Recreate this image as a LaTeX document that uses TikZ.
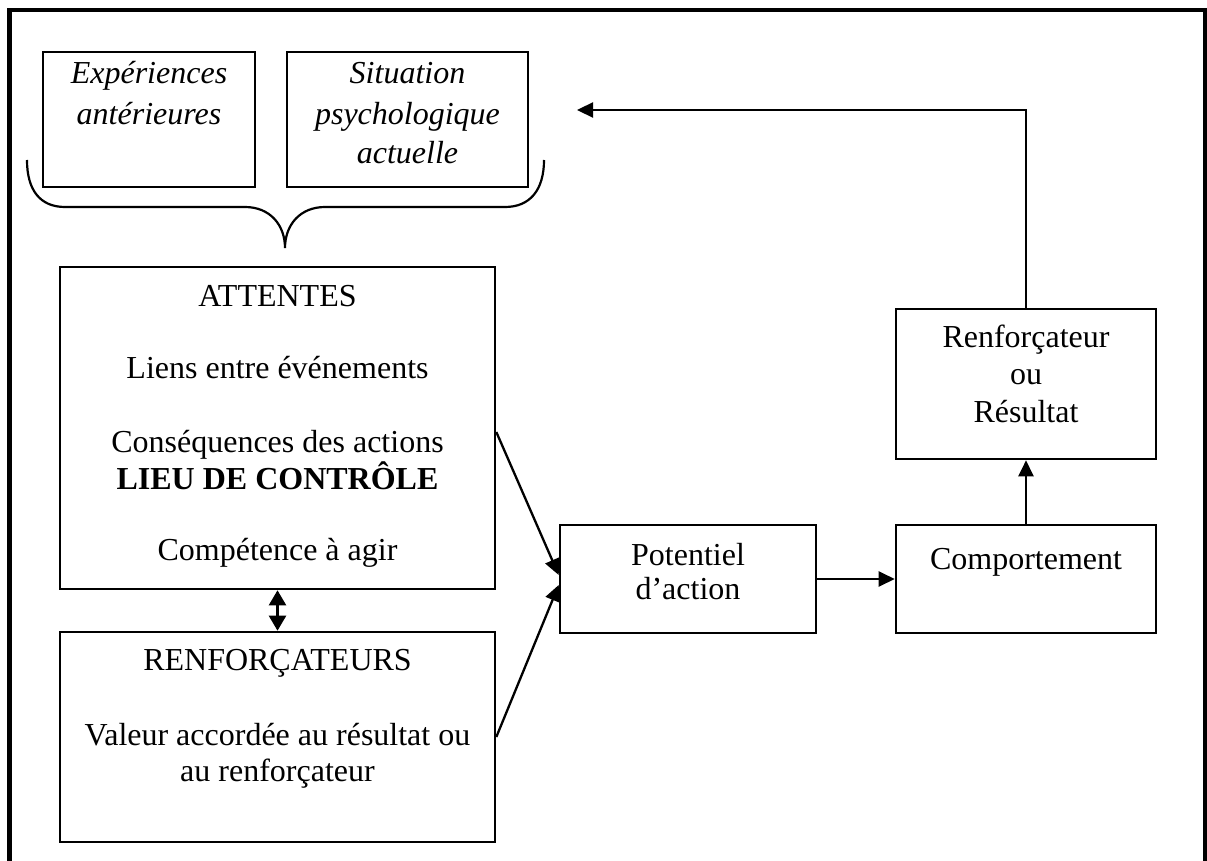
\documentclass[tikz,border=0pt]{standalone}
\usepackage{fontspec}
\setmainfont{Liberation Serif}
\usetikzlibrary{arrows.meta}
% centred block of lines whose reference point is the first baseline
\newcommand\stack[1]{\begin{tabular}[t]{@{}c@{}}#1\end{tabular}}
\begin{document}
\begin{tikzpicture}[x=1pt,y=-1pt,
  box/.style={draw, line width=2.6pt, fill=white, inner sep=0pt},
  txt/.style={anchor=base, inner sep=0pt, font=\fontsize{32}{36}\selectfont},
  conn/.style={line width=2.3pt, -{Triangle[length=16pt,width=15pt]}},
  both/.style={line width=2.3pt, {Triangle[length=15pt,width=17pt]}-{Triangle[length=15pt,width=17pt]}},
  brace/.style={line width=2.2pt}]
\useasboundingbox (0,0) rectangle (1207,861);
\fill[white] (0,0) rectangle (1207,861);

% outer frame (open at the foot of the page)
\draw[line width=4.5pt] (9.5,861) -- (9.5,10) -- (1205,10) -- (1205,861);

% boxes
\node[box, minimum width=212pt, minimum height=135pt] (exp)  at (149,119.5) {};
\node[box, minimum width=241pt, minimum height=135pt] (sit)  at (407.5,119.5) {};
\node[box, minimum width=435pt, minimum height=322pt] (att)  at (277.5,428) {};
\node[box, minimum width=435pt, minimum height=210pt] (renf) at (277.5,737) {};
\node[box, minimum width=256pt, minimum height=108pt] (pot)  at (688,579) {};
\node[box, minimum width=260pt, minimum height=108pt] (comp) at (1026,579) {};
\node[box, minimum width=260pt, minimum height=150pt] (res)  at (1026,384) {};

% texts
\node[txt] (exp-t) at (149,84) {\stack{\textit{Expériences}\\[5pt]\textit{antérieures}}};
\node[txt] (sit-t) at (407.5,84) {\stack{\textit{Situation}\\[5pt]\textit{psychologique}\\[3pt]\textit{actuelle}}};
\node[txt] (att-t) at (277.5,306) {\stack{ATTENTES\\[36pt]Liens entre événements\\[38pt]Conséquences des actions\\[-1pt]\textbf{LIEU DE CONTRÔLE}\\[35pt]Compétence à agir}};
\node[txt] (renf-t) at (277.5,670) {\stack{RENFORÇATEURS\\[39pt]Valeur accordée au résultat ou\\au renforçateur}};
\node[txt] (pot-t) at (688,565) {\stack{Potentiel\\[-2pt]d’action}};
\node[txt] (comp-t) at (1026,569) {Comportement};
\node[txt] (res-t) at (1026,347) {\stack{Renforçateur\\[1.5pt]ou\\[1.5pt]Résultat}};

% brace under the two upper boxes
\draw[brace] (27,160) .. controls (27,190) and (40,207) .. (65,207) -- (245,207)
  .. controls (270,207) and (285,225) .. (285,248)
  .. controls (285,225) and (300,207) .. (325,207) -- (505,207)
  .. controls (530,207) and (544,190) .. (544,160);

% connectors
\draw[both] (att.south) -- (renf.north);
\draw[conn] ([yshift=-4pt]att.east) -- ([yshift=4pt]pot.west);
\draw[conn] (renf.east) -- ([yshift=-6pt]pot.west);
\draw[conn] (pot.east) -- (comp.west);
\draw[conn] (comp.north) -- (res.south);
\coordinate (fb) at (577,110);
\draw[conn] (res.north) |- (fb);
\end{tikzpicture}
\end{document}
